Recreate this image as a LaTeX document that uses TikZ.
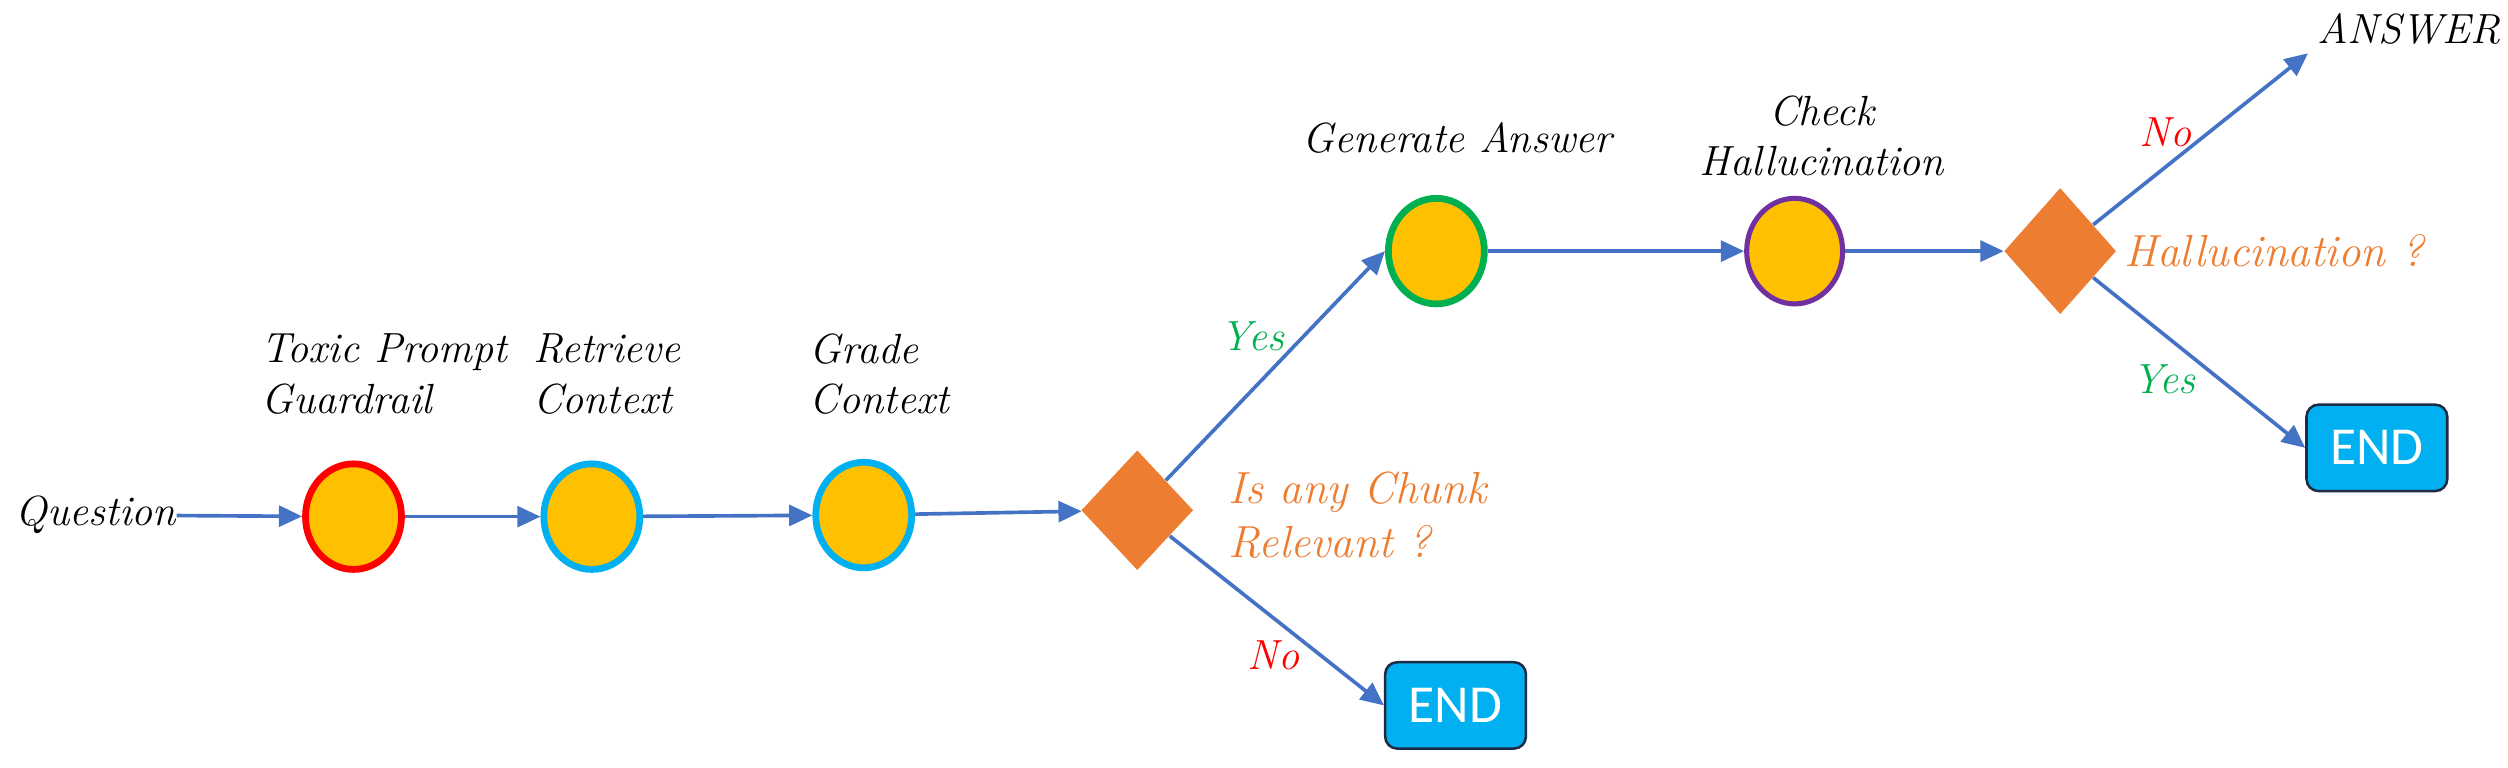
\documentclass[tikz,border=0pt]{standalone}
\usepackage{fontspec}
\newfontfamily\endfont{Carlito}
\usetikzlibrary{arrows.meta,shapes.geometric}
\definecolor{gold}{HTML}{FFC000}
\definecolor{deco}{HTML}{ED7D31}
\definecolor{flow}{HTML}{4472C4}
\definecolor{sky}{HTML}{00B0F0}
\definecolor{navy}{HTML}{1F2A44}
\definecolor{okgreen}{HTML}{00B050}
\definecolor{nored}{HTML}{FF0000}
\definecolor{violet}{HTML}{7030A0}
\tikzset{
  stage/.style={draw, ellipse, fill=gold, minimum width=1.2cm, minimum height=1.32cm, line width=2.4pt, inner sep=0pt},
  decide/.style={diamond, fill=deco, minimum width=1.4cm, minimum height=1.5cm, inner sep=0pt},
  endbox/.style={draw=navy, fill=sky, line width=0.9pt, rounded corners=1.5mm, minimum width=1.76cm, minimum height=1.08cm, text=white, font=\endfont\fontsize{19}{21}\selectfont},
  lbl/.style={font=\itshape\fontsize{15}{18}\selectfont, align=left, anchor=west, inner sep=0pt},
  title/.style={font=\itshape\fontsize{15}{18}\selectfont, align=center, inner sep=0pt},
  ask/.style={lbl, text=deco, font=\itshape\fontsize{16}{19}\selectfont},
  arr/.style={-{Triangle[length=2.9mm,width=2.6mm]}, line width=1.3pt, draw=flow}
}

\begin{document}
\begin{tikzpicture}
\useasboundingbox (0,0) rectangle (31.36,9.6);
% nodes
\node[title] (question) at (1.2,3.16) {Question};
\node[stage, draw=nored] (guard) at (4.42,3.14) {};
\node[stage, draw=sky] (retrieve) at (7.40,3.14) {};
\node[stage, draw=sky] (grade) at (10.80,3.16) {};
\node[decide] (chunk) at (14.22,3.22) {};
\node[stage, draw=okgreen] (generate) at (17.96,6.46) {};
\node[stage, draw=violet, line width=1.8pt] (check) at (22.44,6.46) {};
\node[decide, minimum height=1.58cm] (halluc) at (25.76,6.46) {};
\node[endbox] (endA) at (18.20,0.78) {END};
\node[endbox] (endB) at (29.72,4.0) {END};
\node[title, inner sep=3pt] (answer) at (30.12,9.24) {ANSWER};
% captions
\node[lbl] (guardtxt) at (3.26,4.92) {Toxic Prompt\\Guardrail};
\node[lbl] (retrievetxt) at (6.66,4.92) {Retrieve\\Context};
\node[lbl] (gradetxt) at (10.12,4.92) {Grade\\Context};
\node[title] (generatetxt) at (18.22,7.88) {Generate Answer};
\node[title] (checktxt) at (22.78,7.9) {Check\\Hallucination};
\node[ask] (chunktxt) at (15.36,3.16) {Is any Chunk\\Relevant ?};
\node[ask] (hallucttxt) at (26.56,6.46) {Hallucination ?};
\node[title, text=okgreen] (yesA) at (15.66,5.4) {Yes};
\node[title, text=nored] (noA) at (15.92,1.4) {No};
\node[title, text=nored] (noB) at (27.08,7.94) {No};
\node[title, text=okgreen] (yesB) at (27.06,4.86) {Yes};
% arrows
\draw[arr] (question) -- (guard);
\draw[arr] (guard) -- (retrieve);
\draw[arr] (retrieve) -- (grade);
\draw[arr] (grade) -- (chunk);
\draw[arr] (chunk) -- (generate.west);
\draw[arr] (chunk) -- (endA.west);
\draw[arr] (generate) -- (check);
\draw[arr] (check) -- (halluc);
\draw[arr] (halluc) -- (answer.south west);
\draw[arr] (halluc) -- (endB.west);
\end{tikzpicture}
\end{document}
